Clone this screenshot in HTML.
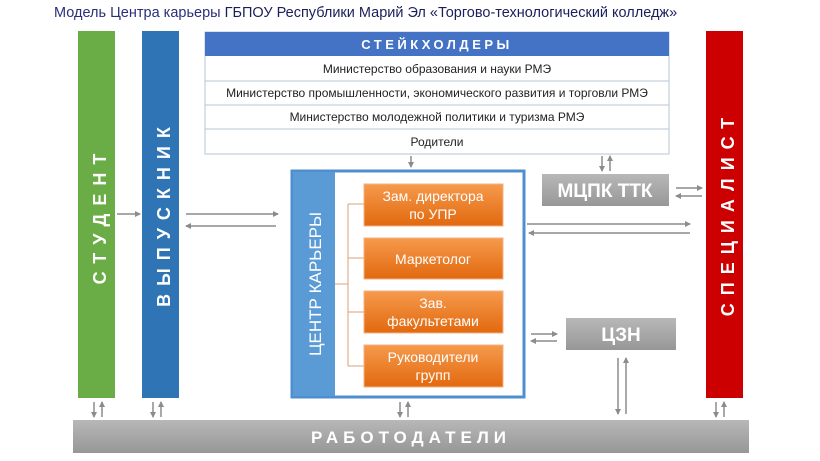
<!DOCTYPE html>
<html><head><meta charset="utf-8"><style>
html,body{margin:0;padding:0;background:#fff;width:820px;height:461px;overflow:hidden;font-family:"Liberation Sans",sans-serif}
</style></head><body>
<svg width="820" height="461" xmlns="http://www.w3.org/2000/svg" font-family="Liberation Sans, sans-serif">
<defs>
<marker id="a" markerWidth="6" markerHeight="6" refX="5" refY="3" orient="auto" markerUnits="userSpaceOnUse"><path d="M0,0 L6,3 L0,6z" fill="#8c8c8c"/></marker>
<linearGradient id="or" x1="0" y1="0" x2="0" y2="1"><stop offset="0" stop-color="#f59a4c"/><stop offset="1" stop-color="#e2690f"/></linearGradient>
<linearGradient id="gr" x1="0" y1="0" x2="0" y2="1"><stop offset="0" stop-color="#b8b8b8"/><stop offset="1" stop-color="#979797"/></linearGradient>
</defs>
<text x="54" y="17" font-size="14.5" fill="#2b2f7a">Модель Центра карьеры <tspan fill="#1a1f5a">ГБПОУ Республики Марий Эл «Торгово-технологический колледж»</tspan></text>
<!-- bars -->
<rect x="78" y="31" width="37" height="367" fill="#6aac46"/>
<text transform="translate(106,215) rotate(-90)" font-size="18" font-weight="bold" fill="#fff" text-anchor="middle" letter-spacing="8">СТУДЕНТ</text>
<rect x="142" y="31" width="37" height="367" fill="#2f74b5"/>
<text transform="translate(170,213) rotate(-90)" font-size="18" font-weight="bold" fill="#fff" text-anchor="middle" letter-spacing="8">ВЫПУСКНИК</text>
<rect x="706" y="31" width="37" height="367" fill="#cc0000"/>
<text transform="translate(734,213) rotate(-90)" font-size="18" font-weight="bold" fill="#fff" text-anchor="middle" letter-spacing="8">СПЕЦИАЛИСТ</text>
<rect x="73" y="420" width="676" height="33" fill="url(#gr)"/>
<text x="411" y="443" font-size="17" font-weight="bold" fill="#fff" text-anchor="middle" letter-spacing="5">РАБОТОДАТЕЛИ</text>
<!-- table -->
<rect x="205" y="32" width="464" height="122" fill="#fff" stroke="#b9c5d6"/>
<rect x="205" y="32" width="464" height="24" fill="#4472c4"/>
<text x="437" y="49" font-size="13" font-weight="bold" fill="#fff" text-anchor="middle" letter-spacing="3.5">СТЕЙКХОЛДЕРЫ</text>
<g stroke="#b9c5d6"><line x1="205" y1="81" x2="669" y2="81"/><line x1="205" y1="105" x2="669" y2="105"/><line x1="205" y1="129" x2="669" y2="129"/></g>
<g font-size="12" fill="#222" text-anchor="middle">
<text x="437" y="73">Министерство образования и науки РМЭ</text>
<text x="437" y="97">Министерство промышленности, экономического развития и торговли РМЭ</text>
<text x="437" y="121">Министерство молодежной политики и туризма РМЭ</text>
<text x="437" y="146">Родители</text>
</g>
<!-- center -->
<rect x="292" y="171" width="232" height="226" fill="#fff" stroke="#4f8fd0" stroke-width="3"/>
<rect x="293" y="172" width="42" height="224" fill="#5b9bd5"/>
<text transform="translate(321,284) rotate(-90)" font-size="17" fill="#fff" text-anchor="middle">ЦЕНТР КАРЬЕРЫ</text>
<g stroke="#d9a27a" fill="none"><path d="M335,284 H348 M348,204 V366 M348,204 H364 M348,258 H364 M348,312 H364 M348,366 H364"/></g>
<g fill="url(#or)" stroke="#f4b183"><rect x="364" y="184" width="139" height="42"/><rect x="364" y="238" width="139" height="41"/><rect x="364" y="291" width="139" height="42"/><rect x="364" y="345" width="139" height="42"/></g>
<g font-size="14" fill="#fff" text-anchor="middle">
<text x="433" y="201">Зам. директора</text><text x="433" y="219">по УПР</text>
<text x="433" y="264">Маркетолог</text>
<text x="433" y="308">Зав.</text><text x="433" y="326">факультетами</text>
<text x="433" y="362">Руководители</text><text x="433" y="380">групп</text>
</g>
<rect x="542" y="174" width="127" height="32" fill="url(#gr)"/>
<text x="605" y="197" font-size="19" font-weight="bold" fill="#fff" text-anchor="middle">МЦПК ТТК</text>
<rect x="566" y="318" width="110" height="32" fill="url(#gr)"/>
<text x="621" y="341" font-size="19" font-weight="bold" fill="#fff" text-anchor="middle">ЦЗН</text>
<!-- arrows -->
<g stroke="#8c8c8c" stroke-width="1.5" marker-end="url(#a)">
<line x1="117" y1="214" x2="140" y2="214"/>
<line x1="186" y1="214" x2="278" y2="214"/><line x1="276" y1="226" x2="186" y2="226"/>
<line x1="527" y1="224" x2="690" y2="224"/><line x1="690" y1="233" x2="529" y2="233"/>
<line x1="676" y1="188" x2="702" y2="188"/><line x1="702" y1="196" x2="676" y2="196"/>
<line x1="602" y1="156" x2="602" y2="171"/><line x1="610" y1="171" x2="610" y2="156"/>
<line x1="411" y1="156" x2="411" y2="167"/>
<line x1="531" y1="334" x2="557" y2="334"/><line x1="557" y1="341" x2="531" y2="341"/>
<line x1="618" y1="358" x2="618" y2="414"/><line x1="626" y1="414" x2="626" y2="358"/>
<line x1="400" y1="402" x2="400" y2="417"/><line x1="408" y1="417" x2="408" y2="402"/>
<line x1="94" y1="402" x2="94" y2="417"/><line x1="102" y1="417" x2="102" y2="402"/>
<line x1="153" y1="402" x2="153" y2="417"/><line x1="161" y1="417" x2="161" y2="402"/>
<line x1="716" y1="402" x2="716" y2="417"/><line x1="724" y1="417" x2="724" y2="402"/>
</g>
</svg>
</body></html>
